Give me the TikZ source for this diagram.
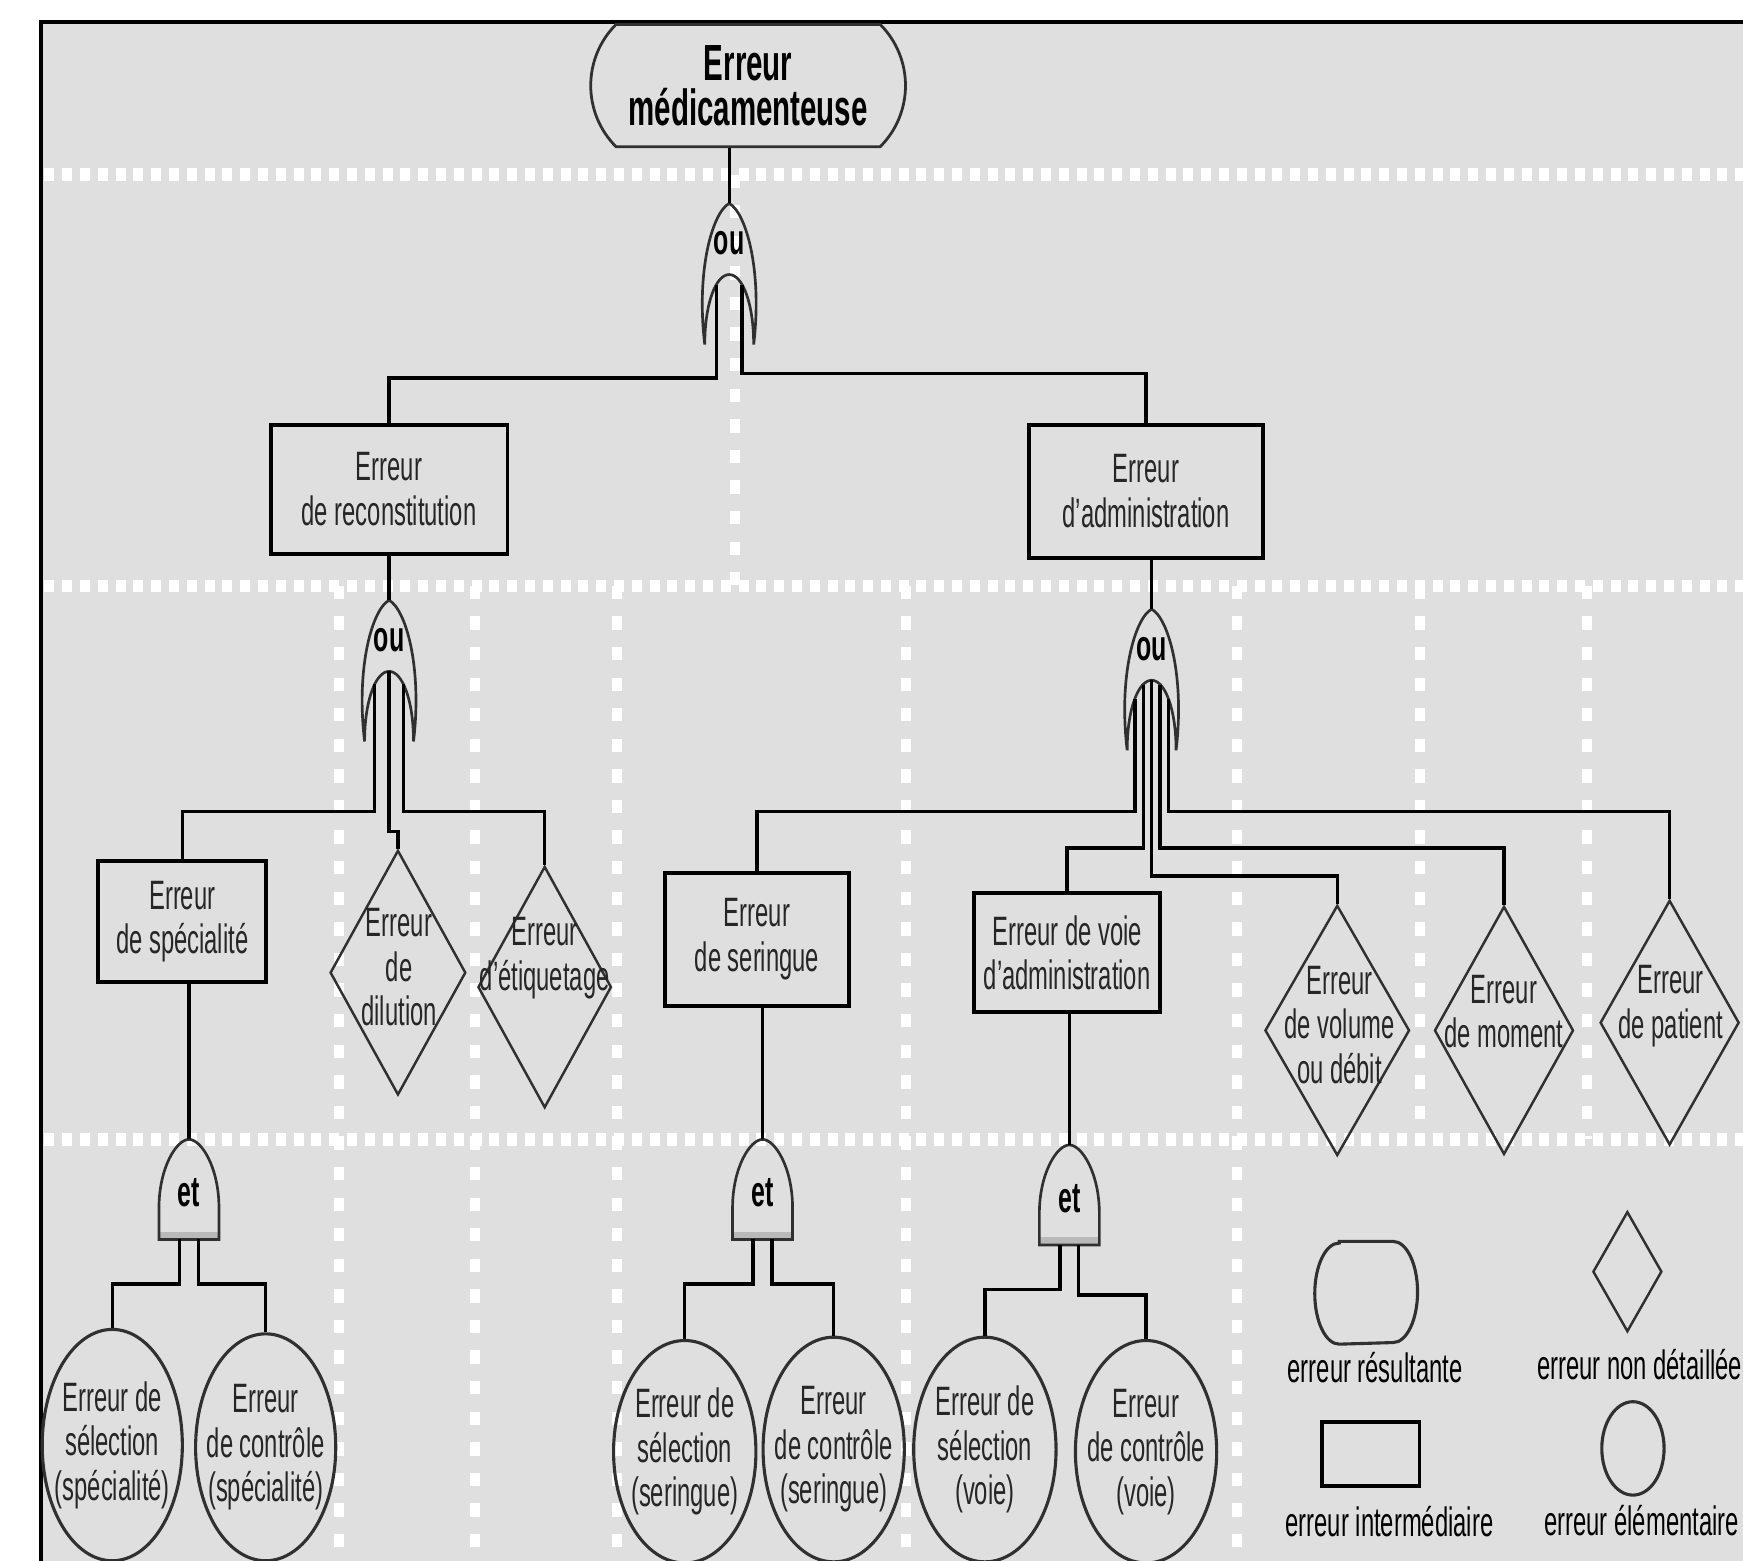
\documentclass[tikz,border=0pt]{standalone}
\usepackage{fontspec}
\setmainfont{Liberation Sans}[FakeStretch=0.58]
\usepackage{tikz}
\usetikzlibrary{calc}
\usetikzlibrary{shapes.geometric,shapes.misc}
\definecolor{fondgris}{HTML}{DFDFDF}
\definecolor{traitgris}{HTML}{303030}
\tikzstyle{txt}=[font=\fontsize{10.5}{11.4}\selectfont, text=black!85, align=center, inner sep=0pt]
\tikzstyle{titre}=[font=\fontsize{13}{11.6}\selectfont\bfseries, align=center, inner sep=0pt]
\tikzstyle{boite}=[txt, rectangle, draw=black, line width=0.035cm, fill=fondgris]
\tikzstyle{losange}=[diamond, draw=traitgris, line width=0.022cm, inner sep=0pt]
\tikzstyle{ovale}=[ellipse, draw=traitgris, line width=0.028cm, inner sep=0pt]
\tikzstyle{lien}=[black, line width=0.03cm]
\tikzstyle{porte}=[traitgris, line width=0.024cm]
\tikzstyle{portetxt}=[font=\fontsize{11}{12}\selectfont\bfseries, inner sep=0pt]
\tikzstyle{hpoints}=[white, line width=0.11cm, dash pattern=on 0.09cm off 0.07cm]
\tikzstyle{vpoints}=[white, line width=0.09cm, dash pattern=on 0.12cm off 0.155cm]
\tikzset{
  porteou/.pic={
    \draw[porte] (-22,127) .. controls (-30,60) and (-15,8) .. (0,0)
      .. controls (15,8) and (30,60) .. (22,127)
      .. controls (22,90) and (12,64) .. (0,64)
      .. controls (-12,64) and (-22,90) .. (-22,127) -- cycle;
    \coordinate (-top) at (0,0);
    \coordinate (-in) at (0,64);
    \node[portetxt] (-lbl) at (0,36) {ou};
  },
  porteet/.pic={
    \fill[gray!55] (-27,83) rectangle (27,90);
    \draw[porte] (-27,90) -- (-27,62) .. controls (-27,25) and (-11,0) .. (0,0)
      .. controls (11,0) and (27,25) .. (27,62) -- (27,90) -- cycle;
    \coordinate (-top) at (0,0);
    \coordinate (-bas) at (0,90);
    \node[portetxt] (-lbl) at (0,48) {et};
  }
}

\begin{document}
\begin{tikzpicture}[x=0.01cm, y=-0.01cm]
  \useasboundingbox (0,0) rectangle (1568,1404);
  \clip (0,0) rectangle (1568,1404);
  %fond
  \fill[fondgris] (37,20) rectangle (1600,1450);
  \draw[black, line width=0.035cm] (37,1450) -- (37,20) -- (1600,20);
  %pointilles horizontaux
  \draw[hpoints] (40,157) -- (1568,157);
  \draw[hpoints] (40,527) -- (1568,527);
  \draw[hpoints] (40,1025) -- (1568,1025);
  %pointilles verticaux
  \draw[vpoints] (661,157) -- (661,527);
  \draw[vpoints] (305,527) -- (305,1404);
  \draw[vpoints] (427,527) -- (427,1404);
  \draw[vpoints] (555,527) -- (555,1404);
  \draw[vpoints] (815,527) -- (815,1404);
  \draw[vpoints] (1113,527) -- (1113,1404);
  \draw[vpoints] (1277,527) -- (1277,1025);
  \draw[vpoints] (1428,527) -- (1428,1025);

  %erreur resultante
  \node[titre, rounded rectangle, rounded rectangle arc length=90, draw=traitgris, line width=0.025cm, fill=fondgris, minimum width=2.83cm, minimum height=1.1cm] (med) at (673,77) {Erreur\\médicamenteuse};
  \pic (g1) at (656,183) {porteou};

  %erreurs intermediaires
  \node[boite, minimum width=2.13cm, minimum height=1.16cm] (rec) at (350,440) {Erreur\\de reconstitution};
  \node[boite, minimum width=2.11cm, minimum height=1.2cm] (adm) at (1031,442) {Erreur\\d'administration};
  \pic (g2) at (350,540) {porteou};
  \pic (g3) at (1036,548) {porteou};

  \node[boite, minimum width=1.51cm, minimum height=1.08cm] (spe) at (164,829) {Erreur\\de spécialité};
  \node[boite, minimum width=1.66cm, minimum height=1.2cm] (ser) at (681,845) {Erreur\\de seringue};
  \node[boite, minimum width=1.67cm, minimum height=1.07cm] (voi) at (960,857) {Erreur de voie\\d'administration};

  %erreurs non detaillees
  \node[losange, minimum width=1.22cm, minimum height=2.2cm] (dil) at (358,875) {};
  \node[txt] (dilt) at (359,870) {Erreur\\de\\dilution};
  \node[losange, minimum width=1.2cm, minimum height=2.17cm] (eti) at (490,888) {};
  \node[txt] (etit) at (490,862) {Erreur\\d'étiquetage};
  \node[losange, minimum width=1.3cm, minimum height=2.25cm] (vol) at (1203,927) {};
  \node[txt] (volt) at (1205,922) {Erreur\\de volume\\ou débit};
  \node[losange, minimum width=1.25cm, minimum height=2.23cm] (mom) at (1353,927) {};
  \node[txt] (momt) at (1353,910) {Erreur\\de moment};
  \node[losange, minimum width=1.25cm, minimum height=2.2cm] (pat) at (1502,920) {};
  \node[txt] (patt) at (1503,905) {Erreur\\de patient};

  %portes et
  \pic (e1) at (170,1025) {porteet};
  \pic (e2) at (686,1025) {porteet};
  \pic (e3) at (962,1030) {porteet};

  %erreurs elementaires
  \node[ovale, minimum width=1.26cm, minimum height=2.08cm] (ss) at (101,1300) {};
  \node[txt] (sst) at (ss) {Erreur de\\sélection\\(spécialité)};
  \node[ovale, minimum width=1.26cm, minimum height=2.04cm] (cs) at (239,1302) {};
  \node[txt] (cst) at (cs) {Erreur\\de contrôle\\(spécialité)};
  \node[ovale, minimum width=1.28cm, minimum height=2.0cm] (sse) at (616,1306) {};
  \node[txt] (sset) at (sse) {Erreur de\\sélection\\(seringue)};
  \node[ovale, minimum width=1.27cm, minimum height=2.02cm] (cse) at (750,1304) {};
  \node[txt] (cset) at (cse) {Erreur\\de contrôle\\(seringue)};
  \node[ovale, minimum width=1.28cm, minimum height=2.02cm] (sv) at (886,1304) {};
  \node[txt] (svt) at (sv) {Erreur de\\sélection\\(voie)};
  \node[ovale, minimum width=1.27cm, minimum height=2.0cm] (cv) at (1031,1306) {};
  \node[txt] (cvt) at (cv) {Erreur\\de contrôle\\(voie)};

  %liens porte 1
  \draw[lien] (g1-top |- med.south) -- (g1-top);
  \draw[lien] ($(g1-in)+(-11.5,9)$) -- ++(0,84) -| (rec.north);
  \draw[lien] ($(g1-in)+(11.5,9)$) -- ++(0,80) -| (adm.north);
  %liens porte 2
  \draw[lien] (g2-top |- rec.south) -- (g2-top);
  \draw[lien] ($(g2-in)+(-13,11.5)$) -- ++(0,114.5) -| (spe.north);
  \draw[lien] (g2-in) -- ++(0,144) -| (dil.north);
  \draw[lien] ($(g2-in)+(13,11.5)$) -- ++(0,114.5) -| (eti.north);
  %liens porte 3
  \draw[lien] (g3-top |- adm.south) -- (g3-top);
  \draw[lien] ($(g3-in)+(-15,17)$) -- ++(0,101) -| (ser.north);
  \draw[lien] ($(g3-in)+(-7.5,4.6)$) -- ++(0,146.4) -| (voi.north);
  \draw[lien] (g3-in) -- ++(0,176) -| (vol.north);
  \draw[lien] ($(g3-in)+(7.5,4.6)$) -- ++(0,146.4) -| (mom.north);
  \draw[lien] ($(g3-in)+(15,17)$) -- ++(0,101) -| (pat.north);
  %liens portes et
  \draw[lien] (e1-top |- spe.south) -- (e1-top);
  \draw[lien] ($(e1-bas)+(-8.5,0)$) -- ++(0,40) -| (ss.north);
  \draw[lien] ($(e1-bas)+(8.5,0)$) -- ++(0,40) -| (cs.north);
  \draw[lien] (e2-top |- ser.south) -- (e2-top);
  \draw[lien] ($(e2-bas)+(-8.5,0)$) -- ++(0,40) -| (sse.north);
  \draw[lien] ($(e2-bas)+(8.5,0)$) -- ++(0,40) -| (cse.north);
  \draw[lien] (e3-top |- voi.south) -- (e3-top);
  \draw[lien] ($(e3-bas)+(-8.5,0)$) -- ++(0,40) -| (sv.north);
  \draw[lien] ($(e3-bas)+(8.5,0)$) -- ++(0,45) -| (cv.north);

  %legende
  \node[minimum width=0.91cm, minimum height=0.91cm, inner sep=0pt] (lres) at (1229,1163) {};
  \draw[traitgris, line width=0.028cm] ($(lres.north west)+(22,0)$) -- ($(lres.north east)+(-22,0)$)
    arc[start angle=-90, end angle=90, x radius=22, y radius=45.5]
    -- ($(lres.south west)+(22,0)$)
    arc[start angle=90, end angle=270, x radius=22, y radius=45.5] -- cycle;
  \node[txt, text=black] (lrest) at (1237,1230) {erreur résultante};
  \node[draw=black, line width=0.035cm, minimum width=0.88cm, minimum height=0.58cm, inner sep=0pt] (lint) at (1233,1308) {};
  \node[txt, text=black] (lintt) at (1250,1369) {erreur intermédiaire};
  \node[losange, minimum width=0.62cm, minimum height=1.08cm] (lnd) at (1464,1144) {};
  \node[txt, text=black, anchor=west] (lndt) at (1382,1228) {erreur non détaillée};
  \node[ovale, minimum width=0.56cm, minimum height=0.84cm] (lel) at (1469,1303) {};
  \node[txt, text=black, anchor=east] (lelt) at (1565,1368) {erreur élémentaire};
\end{tikzpicture}
\end{document}
